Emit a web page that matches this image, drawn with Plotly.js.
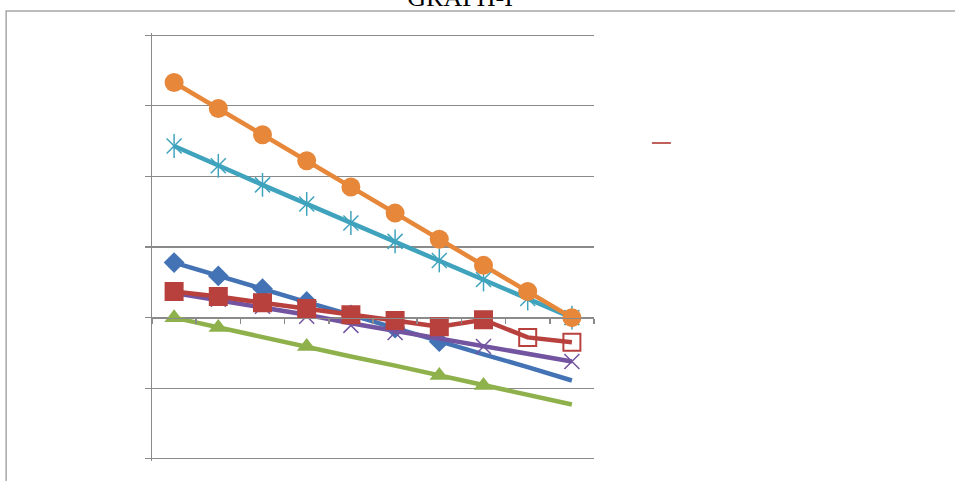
<!DOCTYPE html>
<html>
<head>
<meta charset="utf-8">
<script src="https://cdn.plot.ly/plotly-3.0.1.min.js"></script>
<style>
  html, body { margin: 0; padding: 0; background: #ffffff; }
  #chart { width: 955px; height: 481px; }
</style>
</head>
<body>
<div id="chart"></div>
<script>
// Ten evenly spaced categories along the horizontal axis
const categories = [1, 2, 3, 4, 5, 6, 7, 8, 9, 10];

// Series values
const orangeValues = [3.33, 2.96, 2.59, 2.22, 1.85, 1.48, 1.11, 0.74, 0.37, 0];
const tealValues   = [2.43, 2.15, 1.88, 1.61, 1.34, 1.08, 0.81, 0.54, 0.27, 0];
const redValues    = [0.37, 0.30, 0.21, 0.13, 0.04, -0.04, -0.13, -0.03, -0.28, -0.35];

const blueLine   = [0.78, 0.59, 0.41, 0.22, 0.04, -0.15, -0.33, -0.52, -0.70, -0.89];
const blueMarks  = [0.78, 0.59, 0.41, 0.23, 0.04, -0.15, -0.34, null, null, null];

const purpleLine  = [0.35, 0.25, 0.15, 0.04, -0.08, -0.19, -0.30, -0.41, -0.52, -0.62];
const purpleMarks = [0.35, 0.26, 0.16, 0.02, -0.11, -0.21, null, -0.41, null, -0.62];

const greenLine  = [0, -0.14, -0.27, -0.41, -0.55, -0.68, -0.82, -0.96, -1.09, -1.23];
const greenMarks = [0, -0.14, null, -0.41, null, null, -0.82, -0.96, null, null];

const C = {
  orange: '#E6873A',
  teal:   '#40A3BD',
  blue:   '#4373B5',
  red:    '#B8413E',
  green:  '#8EB14C',
  purple: '#7354A0'
};
const LW = 4.5;

function lineTrace(y, color) {
  return { x: categories, y: y, type: 'scatter', mode: 'lines',
           line: { color: color, width: LW }, hoverinfo: 'skip', showlegend: false };
}
function markTrace(y, color, symbol, size, open) {
  return { x: categories, y: y, type: 'scatter', mode: 'markers', showlegend: false,
           marker: { color: color, symbol: symbol, size: size,
                     line: { color: color, width: open ? 1.5 : 0 } } };
}

const traces = [
  // green
  lineTrace(greenLine, C.green),
  markTrace(greenMarks, C.green, 'triangle-up', 17, false),
  // blue
  lineTrace(blueLine, C.blue),
  markTrace(blueMarks, C.blue, 'diamond', 16, false),
  // purple
  lineTrace(purpleLine, C.purple),
  markTrace(purpleMarks, C.purple, 'x-thin-open', 15, true),
  // red (last two points drawn hollow)
  { x: categories, y: redValues, type: 'scatter', mode: 'lines+markers', showlegend: false,
    line: { color: C.red, width: LW },
    marker: { color: C.red, size: 17,
              symbol: redValues.map((v, i) => i >= 8 ? 'square-open' : 'square'),
              line: { color: C.red, width: 2 } } },
  // teal with star markers
  { x: categories, y: tealValues, type: 'scatter', mode: 'lines', showlegend: false,
    line: { color: C.teal, width: LW } },
  markTrace(tealValues, C.teal, 'x-thin-open', 15, true),
  markTrace(tealValues, C.teal, 'line-ns-open', 17, true),
  // orange with circle markers
  { x: categories, y: orangeValues, type: 'scatter', mode: 'lines+markers', showlegend: false,
    line: { color: C.orange, width: LW },
    marker: { color: C.orange, symbol: 'circle', size: 19 } }
];

const yRange = [-2.03, 4.03];
const axisGray = '#8a8a8a';

const layout = {
  width: 955, height: 481,
  margin: { l: 152, r: 361, t: 33, b: 20, pad: 0 },
  paper_bgcolor: '#ffffff', plot_bgcolor: '#ffffff',
  showlegend: false,
  title: {
    text: 'GRAPH-I',
    font: { family: 'Liberation Serif, Times New Roman, serif', size: 26, color: '#000000' },
    xref: 'paper', x: 0.697, xanchor: 'center',
    yref: 'container', y: 0.988, yanchor: 'bottom'
  },
  xaxis: {
    range: [0.5, 10.5], tick0: 0.5, dtick: 1,
    showgrid: false, zeroline: false, showticklabels: false,
    showline: true, linecolor: axisGray, linewidth: 1.5,
    ticks: 'outside', ticklen: 5, tickcolor: axisGray, tickwidth: 1.5,
    anchor: 'free', position: (0 - yRange[0]) / (yRange[1] - yRange[0])
  },
  yaxis: {
    range: yRange, tick0: 0, dtick: 1,
    showgrid: true, gridcolor: axisGray, gridwidth: 1.2,
    zeroline: false, showticklabels: false,
    showline: true, linecolor: axisGray, linewidth: 1.5,
    ticks: 'outside', ticklen: 6, tickcolor: axisGray, tickwidth: 1.2
  },
  shapes: [
    // outer chart frame
    { type: 'rect', xref: 'paper', yref: 'paper',
      x0: -0.330, x1: 1.84, y0: -0.07, y1: 1.0514,
      line: { color: '#a6a6a6', width: 1.5 }, fillcolor: 'rgba(0,0,0,0)', layer: 'below' },
    // legend key
    { type: 'line', xref: 'paper', yref: 'paper',
      x0: 1.131, x1: 1.174, y0: 0.743, y1: 0.743,
      line: { color: '#C0605D', width: 2 } }
  ]
};

Plotly.newPlot('chart', traces, layout, { displayModeBar: false, staticPlot: true });
</script>
</body>
</html>
